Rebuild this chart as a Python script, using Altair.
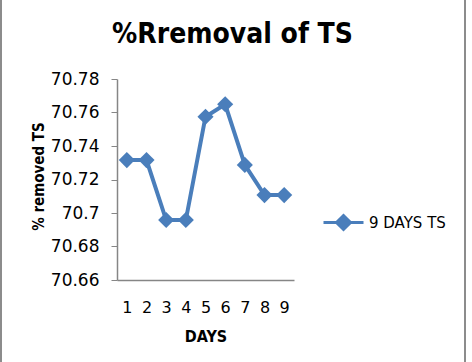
import altair as alt
import pandas as pd

days = [1, 2, 3, 4, 5, 6, 7, 8, 9]
removal = [70.7316, 70.7316, 70.6958, 70.6958, 70.7575, 70.7649, 70.7287, 70.7107, 70.7107]
series = "9 DAYS TS"
y_ticks = [70.66, 70.68, 70.70, 70.72, 70.74, 70.76, 70.78]

df = pd.DataFrame({"day": days, "val": removal, "series": [series] * len(days)})

BLUE = "#4A7EBB"
GREY = "#868686"
FONT = "DejaVu Sans"
CFONT = "DejaVu Sans Condensed, DejaVu Sans"

x = alt.X("day:O", title="DAYS", scale=alt.Scale(padding=0.5),
          axis=alt.Axis(labelAngle=0, ticks=False, domainColor=GREY, domainWidth=1.5,
                        labelFont=FONT, labelFontSize=16, labelColor="black",
                        labelBaseline="alphabetic", labelPadding=32,
                        titleFont=CFONT, titleFontSize=16, titleFontWeight="bold",
                        titleColor="black", titleBaseline="alphabetic", titleY=61))
y = alt.Y("val:Q", title="% removed TS",
          scale=alt.Scale(domain=[70.66, 70.78], nice=False, zero=False),
          axis=alt.Axis(values=y_ticks, format=".2~f", grid=False, tickSize=6,
                        tickColor=GREY, domainColor=GREY, domainWidth=1.5,
                        labelFont=FONT, labelFontSize=17, labelColor="black",
                        labelPadding=12,
                        titleFont=CFONT, titleFontSize=15, titleFontWeight="bold",
                        titleColor="black", titleBaseline="alphabetic",
                        titleX=-74, titleY=97, titleAngle=270))

legend_path = "M-1,0L1,0M-0.35,0L0,-0.35L0.35,0L0,0.35Z"

line = alt.Chart(df).mark_line(strokeWidth=4).encode(
    x=x, y=y,
    color=alt.Color("series:N", scale=alt.Scale(range=[BLUE]),
                    legend=alt.Legend(title=None, orient="none", legendX=205, legendY=122,
                                      symbolType=legend_path, symbolSize=1600,
                                      symbolStrokeWidth=3, symbolFillColor=BLUE,
                                      symbolStrokeColor=BLUE,
                                      labelFont=FONT, labelFontSize=15, labelColor="black",
                                      labelOffset=4)),
)
points = alt.Chart(df).mark_point(shape="diamond", filled=True, size=260, opacity=1,
                                  color=BLUE).encode(x=x, y=y)

frame = alt.Data(values=[{"a": 1}])
border_l = alt.Chart(frame).mark_rule(color="#8c8c8c", strokeWidth=2).encode(
    x=alt.value(-116), y=alt.value(-79), y2=alt.value(283))
border_r = alt.Chart(frame).mark_rule(color="#8c8c8c", strokeWidth=2).encode(
    x=alt.value(348), y=alt.value(-79), y2=alt.value(283))

chart = alt.layer(line, points, border_l, border_r).properties(
    width=177, height=201,
    autosize=alt.AutoSizeParams(type="none"),
    padding={"left": 117, "top": 79, "right": 178, "bottom": 82},
    background="white",
    title=alt.Title("%Rremoval of TS", font=CFONT, fontSize=28, fontWeight="bold",
                    color="black", anchor="middle", dx=27, dy=84, offset=34),
).configure_view(stroke=None)

chart.save("out.html", embed_options={"renderer": "svg", "actions": False})
